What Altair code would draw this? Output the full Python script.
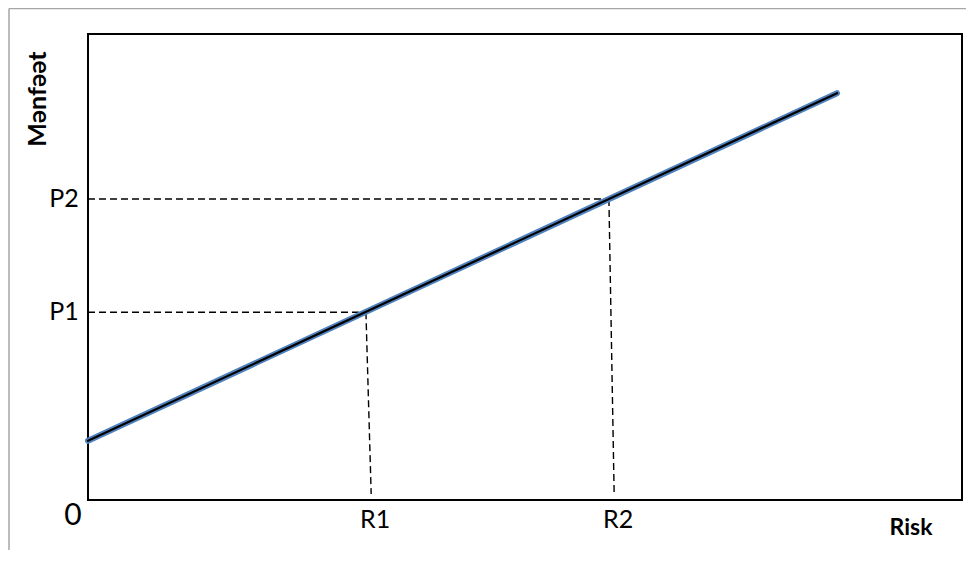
import altair as alt
import pandas as pd

# --- data ---
line_risk = [0.0, 8.57]
line_benefit = [1.27, 8.73]

point_names = ["1", "2"]
risk_top = [3.18, 5.96]      # where the dashed verticals meet the line
risk_bottom = [3.24, 6.02]   # foot of dashed verticals
benefit_levels = [4.03, 6.46]
foot_level = [0.13, 0.13]

r_labels = ["R1", "R2"]
p_labels = ["P1", "P2"]
origin_label = ["0"]

FONT = "Lato"

line_df = pd.DataFrame({"risk": line_risk, "benefit": line_benefit})
dash_df = pd.DataFrame({
    "name": point_names,
    "rtop": risk_top,
    "rbot": risk_bottom,
    "p": benefit_levels,
    "foot": foot_level,
    "zero": [0.0, 0.0],
    "rlab": r_labels,
    "plab": p_labels,
})
origin_df = pd.DataFrame({"x": [0.0], "y": [0.0], "t": origin_label})

xs = alt.Scale(domain=[0, 10], nice=False, zero=False)
ys = alt.Scale(domain=[0, 10], nice=False, zero=False)

base_line = alt.Chart(line_df).encode(
    x=alt.X("risk:Q", scale=xs, axis=None),
    y=alt.Y("benefit:Q", scale=ys, axis=None),
)
blue = base_line.mark_line(color="#4f81bd", strokeWidth=6, strokeCap="round")
black = base_line.mark_line(color="#000000", strokeWidth=2.2, strokeCap="round")

dash = [7, 4]
hdash = alt.Chart(dash_df).mark_rule(color="black", strokeWidth=1.4, strokeDash=dash).encode(
    x=alt.X("zero:Q", scale=xs, axis=None),
    x2="rtop:Q",
    y=alt.Y("p:Q", scale=ys, axis=None),
)
vdash = alt.Chart(dash_df).mark_rule(color="black", strokeWidth=1.4, strokeDash=dash).encode(
    x=alt.X("rtop:Q", scale=xs, axis=None),
    x2="rbot:Q",
    y=alt.Y("p:Q", scale=ys, axis=None),
    y2="foot:Q",
)

r_text = alt.Chart(dash_df).mark_text(font=FONT, fontSize=25, baseline="middle", align="center", dy=20, dx=4).encode(
    x=alt.X("rbot:Q", scale=xs, axis=None),
    y=alt.Y("zero:Q", scale=ys, axis=None),
    text="rlab:N",
)
p_text = alt.Chart(dash_df).mark_text(font=FONT, fontSize=25, baseline="middle", align="center", dx=-24).encode(
    x=alt.X("zero:Q", scale=xs, axis=None),
    y=alt.Y("p:Q", scale=ys, axis=None),
    text="plab:N",
)
o_text = alt.Chart(origin_df).mark_text(font=FONT, fontSize=30, baseline="middle", align="center", dx=-15, dy=16).encode(
    x=alt.X("x:Q", scale=xs, axis=None),
    y=alt.Y("y:Q", scale=ys, axis=None),
    text="t:N",
)

risk_title = alt.Chart(origin_df).mark_text(
    text="Risk", font=FONT, fontSize=23, fontWeight="bold", baseline="middle", align="center"
).encode(x=alt.value(823), y=alt.value(494))
benefit_title = alt.Chart(origin_df).mark_text(
    text="Mənfəət", font=FONT, fontSize=25, fontWeight="bold", baseline="middle", align="center", angle=270
).encode(x=alt.value(-50), y=alt.value(65))

frame_top = alt.Chart(origin_df).mark_rule(color="#a6a6a6", strokeWidth=1.5).encode(
    x=alt.value(-79), x2=alt.value(900), y=alt.value(-25.5)
)
frame_left = alt.Chart(origin_df).mark_rule(color="#a6a6a6", strokeWidth=1.5).encode(
    x=alt.value(-79), y=alt.value(-25.5), y2=alt.value(600)
)

chart = alt.layer(
    frame_top, frame_left, hdash, vdash, blue, black, r_text, p_text, o_text, risk_title, benefit_title
).properties(
    width=874,
    height=466,
    background="white",
    autosize=alt.AutoSizeParams(type="none"),
    padding={"left": 80, "top": 26, "right": 4, "bottom": 50},
).configure_view(
    stroke="black", strokeWidth=2
)

chart.save("out.html", embed_options={"renderer": "svg", "actions": False})
